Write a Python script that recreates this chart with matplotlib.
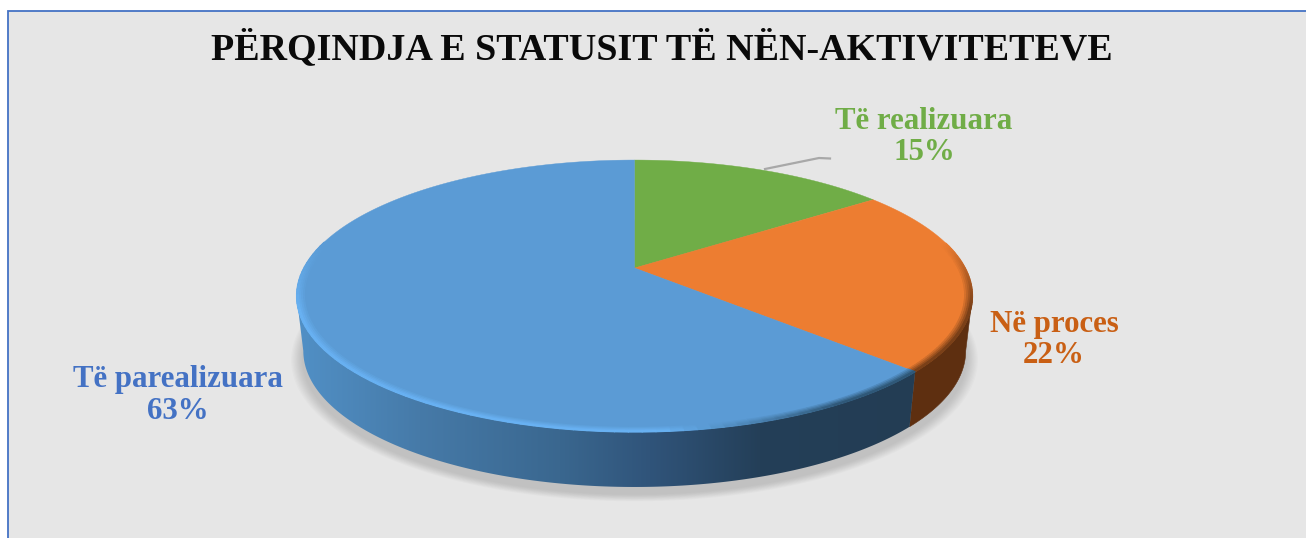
import numpy as np
import matplotlib
matplotlib.use("Agg")
import matplotlib.pyplot as plt
from matplotlib.collections import PolyCollection
from matplotlib.patches import Polygon, Rectangle

TITLE = "PËRQINDJA E STATUSIT TË NËN-AKTIVITETEVE"
categories = ["Të realizuara", "Në proces", "Të parealizuara"]
values = [15, 22, 63]

FACE_COLORS = ["#70ad47", "#ed7d31", "#5b9bd5"]
LABEL_COLORS = ["#70ad47", "#c95f14", "#4472c4"]
LABEL_POS = [(924, 137), (1054, 340), (178, 395.5)]

# pie geometry in image pixels, the disc is tilted so the apex is not in the middle of the ellipse
CX, CY = 634.5, 268
PERSP = 0.206
AX_U, AX_V = 330.7, 130.2
DEPTH = 55
BOTTOM_SCALE = 0.98


def project(angle, r=1.0, drop=0.0, xscale=1.0):
    """angle in radians clockwise from 12 o'clock, r is fraction of the radius"""
    u = r * np.sin(angle)
    v = -r * np.cos(angle)
    w = 1 - PERSP * v
    return CX + xscale * AX_U * u / w, CY + drop + AX_V * v / w


def hex_rgb(c):
    return np.array(matplotlib.colors.to_rgb(c))


def blue_side_gradient(x):
    stops = [297, 420, 560, 650, 760, 915]
    cols = [hex_rgb(c) for c in ["#5190c6", "#467aa8", "#3a678f", "#30547a", "#243f58", "#233d54"]]
    return np.array([np.interp(x, stops, [c[i] for c in cols]) for i in range(3)]).T


def rim_color(x, slice_idx):
    if slice_idx == 1:
        return hex_rgb("#7a4018")
    if slice_idx == 0:
        return hex_rgb("#5f8f3c")
    t = np.clip((x - 660) / 180, 0, 1)
    return (1 - t) * hex_rgb("#68b1f2") + t * hex_rgb("#2f5878")


def wall_polygon(a):
    x0, y0 = project(a)
    x1, y1 = project(a[::-1], drop=DEPTH, xscale=BOTTOM_SCALE)
    return np.column_stack([np.r_[x0, x1], np.r_[y0, y1]])


def main():
    fig = plt.figure(figsize=(13.06, 5.38), dpi=100, facecolor="white")
    ax = fig.add_axes([0, 0, 1, 1])
    plt.rcParams["font.family"] = ["Liberation Serif", "DejaVu Serif"]

    ax.add_patch(Rectangle((8, 11), 1320, 550, facecolor="#e6e6e6", edgecolor="#4472c4", linewidth=1.3))

    # slice boundaries
    fracs = np.array(values) / np.sum(values)
    edges = np.concatenate([[0], np.cumsum(fracs)]) * 2 * np.pi

    # where the disc outline turns away, the walls only exist between these angles
    sil_right = np.arccos(-PERSP)
    sil_left = 2 * np.pi - sil_right

    # soft shadow under the disc
    full = np.linspace(0, 2 * np.pi, 361)
    for i in range(10):
        sx, sy = project(full, r=1.0 + 0.0035 * (10 - i), drop=DEPTH + 7, xscale=BOTTOM_SCALE)
        ax.fill(sx, sy, color="#777777", alpha=0.035, linewidth=0, zorder=2)

    # side walls, the big slice gets a left to right gradient
    orange_wall = wall_polygon(np.linspace(max(edges[1], sil_right), edges[2], 100))
    ax.add_patch(Polygon(orange_wall, facecolor="#5e2f10", edgecolor="#5e2f10", linewidth=0.4, zorder=3))

    blue_wall = wall_polygon(np.linspace(edges[2], min(edges[3], sil_left), 300))
    xs = np.arange(280, 990)
    grad = blue_side_gradient(xs)[np.newaxis, :, :]
    img = ax.imshow(grad, extent=(280, 990, 500, 250), aspect="auto", interpolation="bilinear", zorder=3)
    clip = Polygon(blue_wall, transform=ax.transData, facecolor="none", edgecolor="none")
    ax.add_patch(clip)
    img.set_clip_path(clip)

    # top faces
    for idx in range(len(values)):
        a = np.linspace(edges[idx], edges[idx + 1], 200)
        x, y = project(a)
        ax.fill(np.r_[CX, x], np.r_[CY, y], color=FACE_COLORS[idx], linewidth=0.3, zorder=4)

    # bevel on the front rim, blended from the face colour out to the rim colour
    rings = np.linspace(0.978, 1.0, 5)
    quads, colors = [], []
    for idx in range(len(values)):
        a = np.linspace(edges[idx], edges[idx + 1], 120)
        face = hex_rgb(FACE_COLORS[idx])
        for k, (r0, r1) in enumerate(zip(rings[:-1], rings[1:])):
            for a0, a1 in zip(a[:-1], a[1:]):
                front = np.clip(0.2 - np.cos((a0 + a1) / 2), 0, 0.5) / 0.5
                if front <= 0:
                    continue
                x0, y0 = project(a0, r0)
                x1, y1 = project(a1, r0)
                x2, y2 = project(a1, r1)
                x3, y3 = project(a0, r1)
                t = front * (k + 1) / (len(rings) - 1)
                c = (1 - t) * face + t * rim_color((x0 + x1) / 2, idx)
                quads.append([(x0, y0), (x1, y1), (x2, y2), (x3, y3)])
                colors.append(c)
    ax.add_collection(PolyCollection(quads, facecolors=colors, edgecolors=colors, linewidths=0.9, zorder=5))

    # leader line of the green label
    ax.plot([765, 819, 830], [169, 158, 158.5], color="#a8a8a8", linewidth=1.6, zorder=3)

    ax.text(661.5, 48, TITLE, ha="center", va="center", fontsize=27.4, fontweight="bold", color="#0a0a0a", zorder=6)
    for name, pct_val, pos, col in zip(categories, values, LABEL_POS, LABEL_COLORS):
        ax.text(pos[0], pos[1], name + "\n" + str(pct_val) + "%", ha="center", va="center", fontsize=22.2,
                fontweight="bold", color=col, linespacing=1.1, zorder=6)

    ax.set_xlim(0, 1306)
    ax.set_ylim(538, 0)
    ax.axis("off")
    fig.savefig("out.png", dpi=100, facecolor="white")


if __name__ == "__main__":
    main()
